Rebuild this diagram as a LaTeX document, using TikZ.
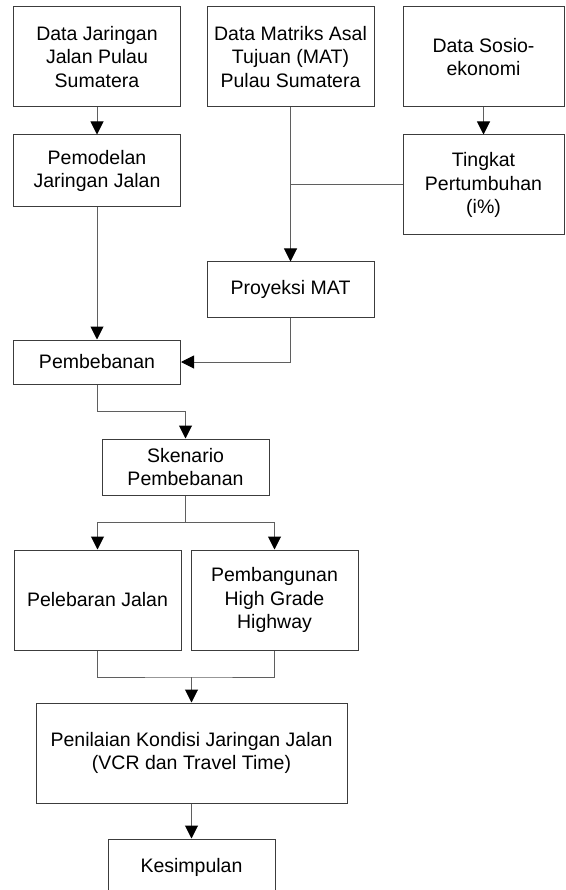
\documentclass[tikz,border=0pt]{standalone}
\usepackage{fontspec}
\setmainfont{Liberation Sans}
\usetikzlibrary{arrows.meta, positioning, calc}
\definecolor{boxline}{RGB}{60, 60, 60}
\definecolor{flowline}{RGB}{95, 95, 95}

\begin{document}
\begin{tikzpicture}[x=1pt, y=-1pt,
    box/.style={rectangle, draw=boxline, line width=1pt, fill=white, minimum width=167pt,
                minimum height=100pt, align=center, inner sep=2pt,
                font=\fontsize{19.5}{23.5}\selectfont},
    flow/.style={draw=flowline, line width=1pt},
    arr/.style={flow, -{Triangle[width=13pt, length=13pt, black]}}]

    \useasboundingbox (0,0) rectangle (565,890);
    \clip (0,0) rectangle (565,890);

    % Input data
    \node[box] (dataJar) at (97, 57) {Data Jaringan\\Jalan Pulau\\Sumatera};
    \node[box] (dataMat) at (290.5, 57) {Data Matriks Asal\\Tujuan (MAT)\\Pulau Sumatera};
    \node[box, minimum width=161pt] (dataSos) at (483.5, 57) {Data Sosio-\\ekonomi};

    % Processing
    \node[box, minimum height=72pt] (pemodelan) at (97, 171) {Pemodelan\\Jaringan Jalan};
    \node[box, minimum width=161pt] (tingkat) at (483.5, 185) {Tingkat\\Pertumbuhan\\(i\%)};
    \node[box, minimum height=55pt] (proyeksi) at (290.5, 289.5) {Proyeksi MAT};
    \node[box, minimum height=44pt] (pembebanan) at (97, 362) {Pembebanan};
    \node[box, minimum height=56pt] (skenario) at (185.5, 467) {Skenario\\Pembebanan};

    % Scenarios
    \node[box] (pelebaran) at (97.5, 600) {Pelebaran Jalan};
    \node[box] (pembangunan) at (274.5, 600) {Pembangunan\\High Grade\\Highway};

    % Results
    \node[box, minimum width=311pt] (penilaian) at (191.5, 753) {Penilaian Kondisi Jaringan Jalan\\(VCR dan Travel Time)};
    \node[box, minimum height=56pt] (kesimpulan) at (191.5, 867) {Kesimpulan};

    % Junctions
    \coordinate (join) at (dataMat.south |- tingkat.west);
    \coordinate (split) at (185.5, 522);
    \coordinate (merge) at (191.5, 677);

    % Arrows
    \draw[arr] (dataJar) -- (pemodelan);
    \draw[arr] (dataSos) -- (tingkat);
    \draw[arr] (pemodelan) -- (pembebanan);
    \draw[arr] (dataMat) -- (proyeksi);
    \draw[flow] (tingkat.west) -- (join);
    \draw[arr] (proyeksi.south) |- (pembebanan.east);
    \draw[arr] (pembebanan.south) -- ++(0,27) -| (skenario.north);
    \draw[flow] (skenario.south) -- (split);
    \draw[arr] (split) -| (pelebaran.north);
    \draw[arr] (split) -| (pembangunan.north);
    \draw[flow] (pelebaran.south) |- (merge) -| (pembangunan.south);
    \draw[arr] (merge) -- (penilaian.north);
    \draw[arr] (penilaian) -- (kesimpulan);
\end{tikzpicture}
\end{document}
